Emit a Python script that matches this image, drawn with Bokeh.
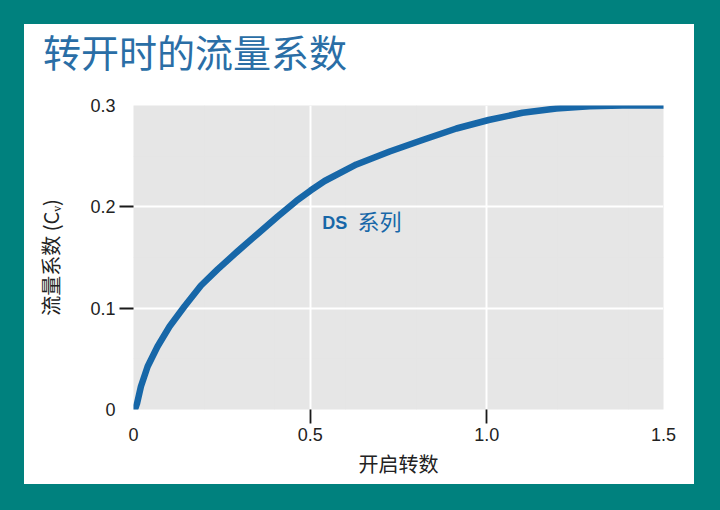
from bokeh.plotting import figure
from bokeh.layouts import column
from bokeh.models import (LinearAxis, FixedTicker, Label, Range1d, Grid, Div,
                          GlobalInlineStyleSheet)
from bokeh.embed import file_html
from bokeh.resources import INLINE

# ---- data ----
turns = [0.004, 0.010, 0.021, 0.040, 0.068, 0.102, 0.144, 0.191, 0.238, 0.294,
         0.351, 0.408, 0.461, 0.501, 0.541, 0.631, 0.725, 0.818, 0.914, 1.005,
         1.101, 1.197, 1.291, 1.384, 1.500]
cv = [0.000, 0.006, 0.0227, 0.0424, 0.0622, 0.0819, 0.1016, 0.1224, 0.1382, 0.1559,
      0.1732, 0.1905, 0.2058, 0.2161, 0.2255, 0.2418, 0.2546, 0.2660, 0.2773, 0.2857,
      0.2928, 0.2970, 0.2993, 0.3000, 0.3000]
x_tick_labels = [0, 0.5, 1.0, 1.5]
x_tick_text = {0: "0", 0.5: "0.5", 1: "1.0", 1.5: "1.5"}
x_tick_marks = [0.5, 1.0]
y_tick_labels = [0, 0.1, 0.2, 0.3]
y_tick_text = {0: "0", 0.1: "0.1", 0.2: "0.2", 0.3: "0.3"}
y_tick_marks = [0.1, 0.2]
series_name = ("DS", "系列")
title_text = "转开时的流量系数"
x_title = "开启转数"
y_title = "流量系数 (Cᵥ)"

TEAL = "#00817E"
BLUE = "#1767A8"
TITLE_BLUE = "#2A6EA6"
TXT = "#222222"
CJK = "Noto Sans CJK SC"
LAT = "Liberation Sans"

TITLE_H = 56

title_div = Div(text=title_text, width=670, height=TITLE_H, margin=0,
                styles={"background-color": "white", "color": TITLE_BLUE,
                        "font-family": f"'{CJK}', sans-serif",
                        "font-size": "38px", "line-height": "1.2",
                        "padding-left": "19px", "padding-top": "4px",
                        "box-sizing": "border-box", "white-space": "nowrap"})

p = figure(width=670, height=460 - TITLE_H, x_range=Range1d(0, 1.5),
           y_range=Range1d(0, 0.3),
           output_backend="svg", toolbar_location=None,
           x_axis_location=None, y_axis_location=None,
           min_border_left=109, min_border_right=31, min_border_top=81 - TITLE_H,
           min_border_bottom=75,
           background_fill_color="#E6E6E6", border_fill_color="white",
           outline_line_color=None, margin=0)

# grids
p.add_layout(Grid(dimension=0, ticker=FixedTicker(ticks=x_tick_marks),
                  grid_line_color="white", grid_line_width=2))
p.add_layout(Grid(dimension=1, ticker=FixedTicker(ticks=y_tick_marks),
                  grid_line_color="white", grid_line_width=2))

def tick_axis(ticks):
    a = LinearAxis(ticker=FixedTicker(ticks=ticks))
    a.axis_line_color = None
    a.major_tick_in = 0
    a.major_tick_out = 14
    a.major_tick_line_color = "#1a1a1a"
    a.major_tick_line_width = 1.8
    a.minor_tick_line_color = None
    a.major_label_text_font_size = "0px"
    a.major_label_standoff = 0
    return a

def label_axis(ticks, texts, title, standoff):
    a = LinearAxis(ticker=FixedTicker(ticks=ticks), axis_label=title)
    a.axis_line_color = None
    a.major_tick_line_color = None
    a.minor_tick_line_color = None
    a.major_tick_in = 0
    a.major_tick_out = 0
    a.major_label_text_font = LAT
    a.major_label_text_font_size = "18px"
    a.major_label_text_color = TXT
    a.major_label_standoff = 4
    a.major_label_overrides = texts
    a.axis_label_text_font = CJK
    a.axis_label_text_font_size = "20px"
    a.axis_label_text_font_style = "normal"
    a.axis_label_text_color = TXT
    a.axis_label_standoff = standoff
    return a

p.add_layout(tick_axis(y_tick_marks), "left")
p.add_layout(label_axis(y_tick_labels, y_tick_text, y_title, 22), "left")
p.add_layout(tick_axis(x_tick_marks), "below")
p.add_layout(label_axis(x_tick_labels, x_tick_text, x_title, 5), "below")

p.line(turns, cv, line_color=BLUE, line_width=6.5, line_cap="round",
       line_join="round")

p.add_layout(Label(x=0.534, y=0.1845, text=series_name[0], text_font=LAT,
                   text_font_style="bold", text_font_size="18px",
                   text_color=BLUE, text_baseline="middle"))
p.add_layout(Label(x=0.634, y=0.1875, text=series_name[1], text_font=CJK,
                   text_font_size="22px", text_color=BLUE,
                   text_baseline="middle"))

layout = column(title_div, p, spacing=0, margin=(24, 25, 25, 24),
                styles={"background-color": "white"})
layout.stylesheets = [GlobalInlineStyleSheet(css=f"body {{ background: {TEAL}; }}")]

open("out.html", "w").write(file_html(layout, INLINE))
